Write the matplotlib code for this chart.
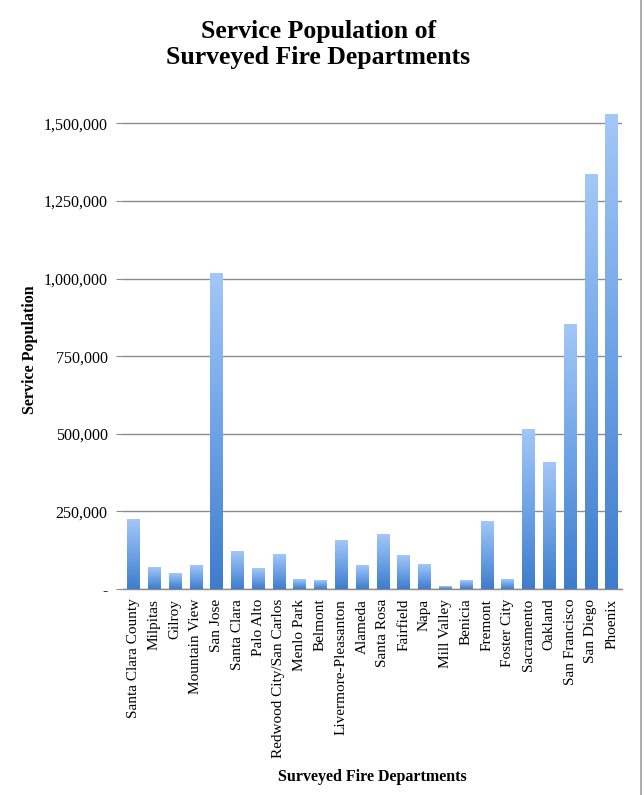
import numpy as np
import matplotlib
matplotlib.use('Agg')
import matplotlib.pyplot as plt
from matplotlib.colors import LinearSegmentedColormap
from matplotlib.ticker import FuncFormatter
from matplotlib.lines import Line2D

departments = ['Santa Clara County', 'Milpitas', 'Gilroy', 'Mountain View', 'San Jose',
               'Santa Clara', 'Palo Alto', 'Redwood City/San Carlos', 'Menlo Park', 'Belmont',
               'Livermore-Pleasanton', 'Alameda', 'Santa Rosa', 'Fairfield', 'Napa',
               'Mill Valley', 'Benicia', 'Fremont', 'Foster City', 'Sacramento',
               'Oakland', 'San Francisco', 'San Diego', 'Phoenix']
population = [225000, 68000, 51500, 77000, 1015000,
              121000, 66500, 112500, 32000, 27000,
              157000, 75000, 174000, 108500, 79500,
              7000, 27000, 219000, 32000, 515000,
              406000, 851500, 1336000, 1527000]
yticks = [0, 250000, 500000, 750000, 1000000, 1250000, 1500000]

serif = ['Liberation Serif', 'DejaVu Serif']
plt.rcParams['font.family'] = serif

fig = plt.figure(figsize=(6.44, 7.95), dpi=100)
ax = fig.add_axes([123 / 644, 206 / 795, 499 / 644, 479 / 795])

x = np.arange(len(departments))
bars = ax.bar(x, population, width=0.6, color='none', zorder=3)

# vertical gradient inside every bar, light at the top, darker at the bottom
grad = LinearSegmentedColormap.from_list('blues', ['#3e7ccc', '#6ea3e6', '#a3c7f7'])
g = np.linspace(0, 1, 256).reshape(-1, 1)
for b in bars:
    x0, y0 = b.get_x(), b.get_y()
    ax.imshow(g, cmap=grad, origin='lower', aspect='auto', zorder=3,
              extent=[x0, x0 + b.get_width(), y0, y0 + b.get_height()])

ax.set_xlim(-0.5, len(departments) - 0.5)
ax.set_ylim(0, 1543000)
ax.set_yticks(yticks)
ax.yaxis.set_major_formatter(FuncFormatter(lambda v, p: '-' if v == 0 else f'{int(v):,}'))
ax.grid(axis='y', color='#8c8c8c', linewidth=1.0, zorder=1)
ax.set_axisbelow(True)

for s in ['top', 'right', 'left']:
    ax.spines[s].set_visible(False)
ax.spines['bottom'].set_color('#8c8c8c')
ax.spines['bottom'].set_linewidth(1.0)

ax.set_xticks(x)
ax.set_xticklabels(departments, rotation=90, fontsize=11)
ax.tick_params(axis='x', length=0, pad=7)
ax.tick_params(axis='y', length=5, color='#8c8c8c', labelsize=11.5, pad=6)

ax.set_ylabel('Service Population', fontsize=11.5, fontweight='bold', labelpad=4)
ax.set_xlabel('Surveyed Fire Departments', fontsize=11.5, fontweight='bold', labelpad=8)

fig.text(0.494, 0.944, 'Service Population of\nSurveyed Fire Departments',
         ha='center', va='center', fontsize=18.5, fontweight='bold', linespacing=1.2)

# thin border along the right edge
fig.add_artist(Line2D([641 / 644, 641 / 644], [0, 1], color='#a0a0a0', linewidth=1.2))

fig.savefig('out.png', dpi=100)
